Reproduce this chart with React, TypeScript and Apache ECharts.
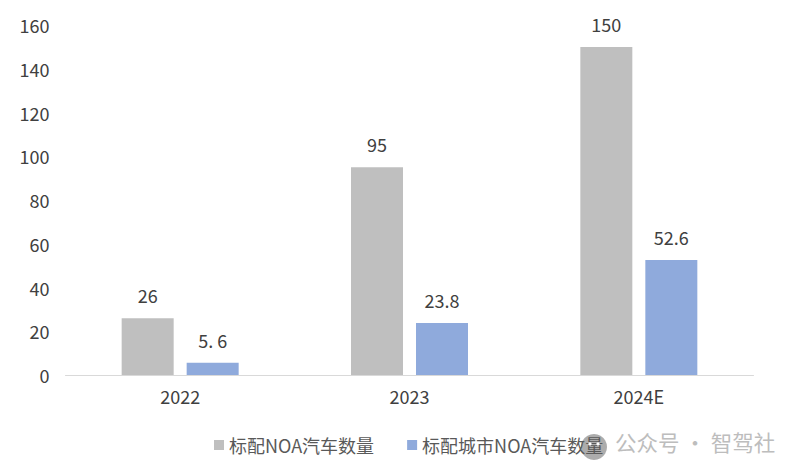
import React, { useEffect, useRef } from "react";
import * as echarts from "echarts";

const categories = ["2022", "2023", "2024E"];
const standardNoa = [26, 95, 150];
const cityNoa = [5.6, 23.8, 52.6];
const seriesNames = ["标配NOA汽车数量", "标配城市NOA汽车数量"];
const font = '"Noto Sans CJK SC", "Noto Sans", sans-serif';
const legendFont = '"Noto Sans CJK SC", sans-serif';

export default function App() {
  const ref = useRef<HTMLDivElement>(null);
  useEffect(() => {
    const chart = echarts.init(ref.current!, undefined, { renderer: "svg" });
    const label = { show: true, position: "top" as const, distance: 14, fontSize: 18, color: "#404040", fontFamily: font, formatter: (p: any) => (p.value === 5.6 ? "5. 6" : String(p.value)) };
    chart.setOption({
      animation: false,
      grid: { left: 65.5, right: 45.5, top: 25, bottom: 101 },
      legend: {
        top: 431, left: 209, itemWidth: 10, itemHeight: 10, itemGap: 33,
        textStyle: { fontSize: 18, color: "#595959", fontFamily: legendFont },
        data: seriesNames.map((name) => ({ name, icon: "rect" })),
      },
      xAxis: {
        type: "category", data: categories,
        axisLine: { lineStyle: { color: "#d9d9d9" } }, axisTick: { show: false },
        axisLabel: { fontSize: 18, color: "#404040", margin: 12, fontFamily: font },
      },
      yAxis: {
        type: "value", min: 0, max: 160, interval: 20,
        splitLine: { show: false }, axisLine: { show: false }, axisTick: { show: false },
        axisLabel: { fontSize: 18, color: "#404040", margin: 16, fontFamily: font },
      },
      series: [
        { name: seriesNames[0], type: "bar", data: standardNoa, barWidth: 52, barGap: "25%", itemStyle: { color: "#bfbfbf" }, label },
        { name: seriesNames[1], type: "bar", data: cityNoa, barWidth: 52, itemStyle: { color: "#8faadc" }, label },
      ],
      graphic: [
        { type: "circle", z: 100, shape: { cx: 594, cy: 447, r: 13 }, style: { fill: "rgba(90,90,90,0.5)" } },
        { type: "circle", z: 101, shape: { cx: 590, cy: 444, r: 1.6 }, style: { fill: "#ffffff" } },
        { type: "circle", z: 101, shape: { cx: 598, cy: 444, r: 1.6 }, style: { fill: "#ffffff" } },
        { type: "text", z: 100, x: 615, y: 431, style: { text: "公众号 · 智驾社", fontSize: 21.5, fill: "#bdbdbd", fontFamily: font } },
      ],
    });
    return () => chart.dispose();
  }, []);
  return <div ref={ref} style={{ width: 799, height: 476, position: "absolute", left: 0, top: 0, background: "#fff" }} />;
}
